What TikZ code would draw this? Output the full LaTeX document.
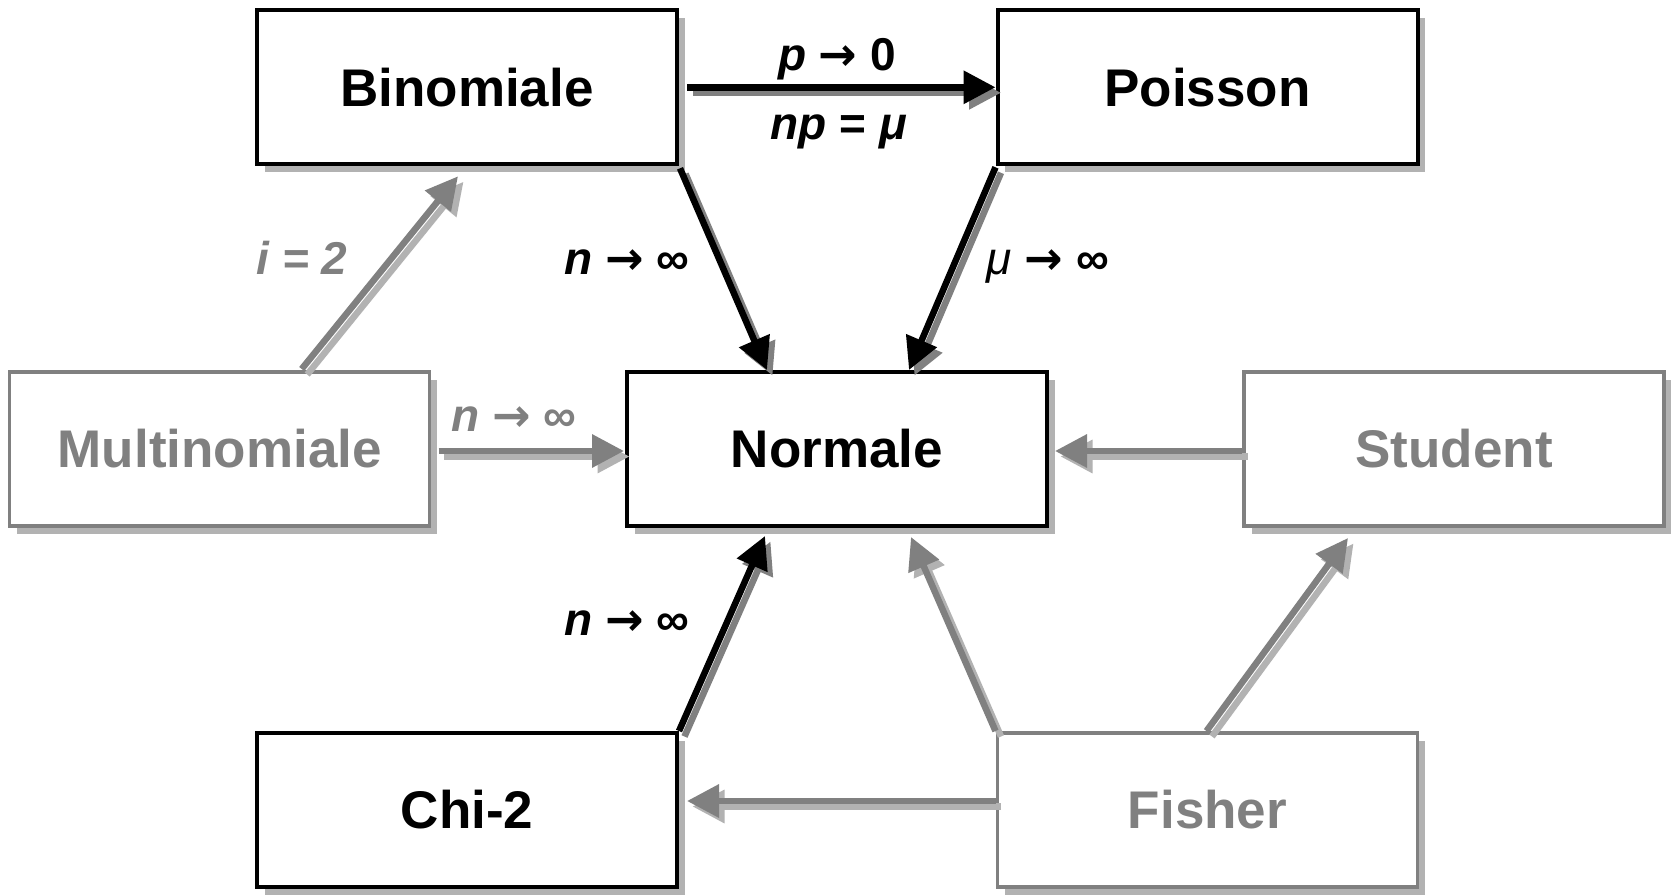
\documentclass[tikz,border=0pt]{standalone}
\usepackage{fontspec}
\setmainfont{Liberation Sans}
\newfontfamily\dvfont{DejaVu Sans}
\usetikzlibrary{arrows.meta,shadows}

\definecolor{midgray}{gray}{0.5}
\definecolor{shadowgray}{gray}{0.70}

% bold arrow used inside the limit conditions
\newcommand{\tendsto}{{\upshape\dvfont\bfseries →}}

% thick connector with an offset shadow: colour, shadow colour, from, to
\newcommand{\shadedlink}[4]{%
  \draw[conn, #2, transform canvas={shift={(5.5pt,-5.5pt)}}] #3 -- #4;
  \draw[conn, #1] #3 -- #4;
}

\begin{document}
\begin{tikzpicture}[x=1pt, y=-1pt,
  box/.style={rectangle, draw, line width=4pt, fill=white,
    minimum width=420pt, minimum height=154pt, inner sep=0pt, outer sep=0pt,
    font=\bfseries\fontsize{53}{60}\selectfont,
    drop shadow={shadow xshift=7.5pt, shadow yshift=-7.5pt, fill=shadowgray, opacity=1}},
  darkbox/.style={box, draw=black, text=black},
  palebox/.style={box, draw=midgray, text=midgray, line width=3.5pt},
  conn/.style={line width=6.5pt, -{Triangle[length=32pt, width=32pt]}},
  lbl/.style={anchor=base, inner sep=0pt, font=\bfseries\fontsize{46}{52}\selectfont},
  palelbl/.style={lbl, text=midgray}]

\fill[white] (0,0) rectangle (1671,896);
\useasboundingbox (0,0) rectangle (1671,896);

% distributions
\node[darkbox] (bin) at (467,87.3)  {Binomiale};
\node[darkbox] (poi) at (1207.5,87.3) {Poisson};
\node[palebox] (mul) at (219.7,449) {Multinomiale};
\node[darkbox] (nor) at (837,449)   {Normale};
\node[palebox] (stu) at (1454,449)  {Student};
\node[darkbox] (chi) at (467,810)   {Chi-2};
\node[palebox] (fis) at (1207.5,810) {Fisher};

% limits and special cases
\shadedlink{black}{midgray}{([xshift=10pt]bin.east)}{([xshift=-2pt]poi.west)}
\shadedlink{black}{midgray}{([shift={(3pt,-4pt)}]bin.south east)}{([shift={(-70pt,2pt)}]nor.north)}
\shadedlink{black}{midgray}{([shift={(-2pt,-3pt)}]poi.south west)}{([shift={(72pt,2pt)}]nor.north)}
\shadedlink{black}{midgray}{([shift={(2pt,2pt)}]chi.north east)}{([shift={(-72pt,-10pt)}]nor.south)}
\shadedlink{midgray}{shadowgray}{([shift={(-2pt,2pt)}]fis.north west)}{([shift={(74pt,-11pt)}]nor.south)}
\shadedlink{midgray}{shadowgray}{([shift={(-1pt,2pt)}]fis.north)}{([shift={(-106pt,-12pt)}]stu.south)}
\shadedlink{midgray}{shadowgray}{([shift={(-2pt,9pt)}]fis.west)}{([shift={(10pt,9pt)}]chi.east)}
\shadedlink{midgray}{shadowgray}{([shift={(-2pt,-2pt)}]stu.west)}{([shift={(8pt,-2pt)}]nor.east)}
\shadedlink{midgray}{shadowgray}{([shift={(9pt,-2pt)}]mul.east)}{([shift={(-3pt,-2pt)}]nor.west)}
\shadedlink{midgray}{shadowgray}{([shift={(82pt,3pt)}]mul.north)}{([shift={(-9pt,-12pt)}]bin.south)}

% conditions
\node[lbl] (lpz) at (837,71)  {\itshape p\upshape\ \tendsto\ 0};
\node[lbl] (lnp) at (839,140) {\itshape np\upshape\ = \itshape μ};
\node[lbl] (lbn) at (627,274) {\itshape n\upshape\ \tendsto\ ∞};
\node[lbl] (lmu) at (1048,274) {\mdseries\itshape μ\bfseries\upshape\ \tendsto\ ∞};
\node[palelbl] (li2) at (302,274) {\itshape i = 2};
\node[palelbl] (lmn) at (514,431) {\itshape n\upshape\ \tendsto\ ∞};
\node[lbl] (lcn) at (627,635) {\itshape n\upshape\ \tendsto\ ∞};
\end{tikzpicture}
\end{document}
